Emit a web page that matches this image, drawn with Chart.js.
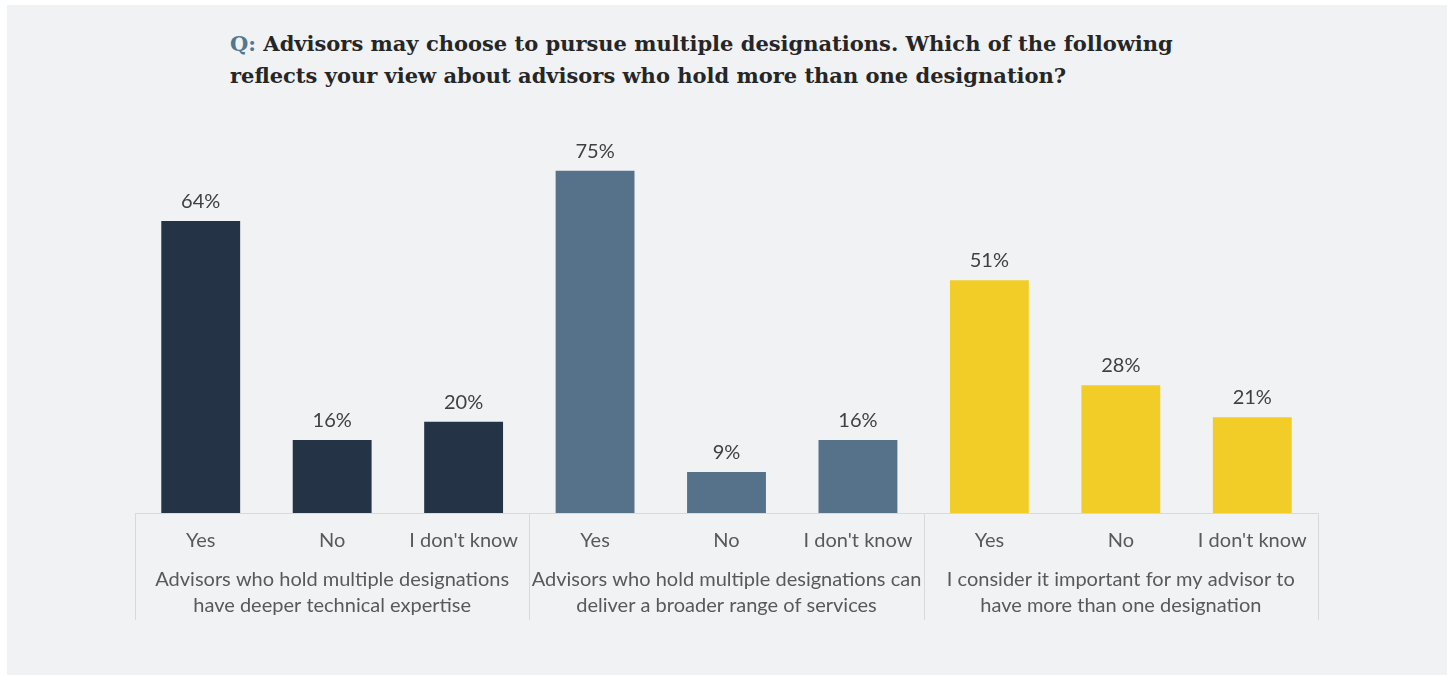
<!DOCTYPE html>
<html lang="en">
<head>
<meta charset="UTF-8">
<title>Advisor designations survey</title>
<script src="https://cdn.jsdelivr.net/npm/chart.js"></script>
<style>
    html, body {
        margin: 0;
        padding: 0;
        background: #ffffff;
    }
    .panel {
        position: absolute;
        left: 7px;
        top: 5px;
        width: 1440px;
        height: 670px;
        background: #f1f2f4;
    }
    .title {
        position: absolute;
        left: 223px;
        top: 23px;
        font-family: "DejaVu Serif", serif;
        font-weight: bold;
        font-size: 21px;
        line-height: 32px;
        color: #262626;
        white-space: nowrap;
    }
    .title .q { color: #4f7891; }
    .chart-box {
        position: absolute;
        left: 0;
        top: 0;
    }
</style>
</head>
<body>
<div class="panel">
    <div class="title"><span class="q">Q:</span> Advisors may choose to pursue multiple designations. Which of the following<br>reflects your view about advisors who hold more than one designation?</div>
</div>
<div class="chart-box">
    <canvas id="designations" width="1450" height="675"></canvas>
</div>
<script>
    // answers under each bar, statements under each group of three
    const answers = ['Yes', 'No', "I don't know", 'Yes', 'No', "I don't know", 'Yes', 'No', "I don't know"];
    const statements = [
        ['Advisors who hold multiple designations', 'have deeper technical expertise'],
        ['Advisors who hold multiple designations can', 'deliver a broader range of services'],
        ['I consider it important for my advisor to', 'have more than one designation']
    ];
    const shares = [64, 16, 20, 75, 9, 16, 51, 28, 21];
    const groupColors = ['#243446', '#56718a', '#f2cd27'];

    const barColors = shares.map((v, i) => groupColors[Math.floor(i / 3)]);
    const groupLineHeight = 1.3;
    const groupPadding = -2;

    // percent text above each bar
    const valueLabels = {
        id: 'valueLabels',
        afterDatasetsDraw(chart) {
            const ctx = chart.ctx;
            const meta = chart.getDatasetMeta(0);
            ctx.save();
            ctx.font = '20px Lato';
            ctx.fillStyle = '#404040';
            ctx.textAlign = 'center';
            ctx.textBaseline = 'alphabetic';
            meta.data.forEach((bar, i) => {
                ctx.fillText(shares[i] + '%', bar.x, bar.y - 13);
            });
            ctx.restore();
        }
    };

    // vertical dividers between the statement groups
    const groupDividers = {
        id: 'groupDividers',
        afterDraw(chart) {
            const area = chart.chartArea;
            const groups = chart.scales.groups;
            const bottom = groups.top + groupPadding + 2 * 20 * groupLineHeight + 1;
            const step = (area.right - area.left) / statements.length;
            const ctx = chart.ctx;
            ctx.save();
            ctx.strokeStyle = '#d9d9d9';
            ctx.lineWidth = 1;
            for (let k = 0; k <= statements.length; k++) {
                const x = Math.round(area.left + k * step) + 0.5;
                ctx.beginPath();
                ctx.moveTo(x, area.bottom);
                ctx.lineTo(x, bottom);
                ctx.stroke();
            }
            ctx.restore();
        }
    };

    const ctx = document.getElementById('designations').getContext('2d');
    new Chart(ctx, {
        type: 'bar',
        data: {
            labels: answers,
            datasets: [{
                data: shares,
                backgroundColor: barColors,
                barPercentage: 0.6,
                categoryPercentage: 1.0
            }]
        },
        options: {
            responsive: false,
            animation: false,
            layout: {
                padding: { left: 135, right: 132, top: 148, bottom: 58 }
            },
            plugins: {
                legend: { display: false },
                tooltip: { enabled: false }
            },
            scales: {
                y: {
                    display: false,
                    min: 0,
                    max: 80
                },
                x: {
                    weight: 0,
                    grid: { display: false, drawTicks: false },
                    border: { display: true, color: '#d9d9d9', width: 1 },
                    ticks: {
                        color: '#595959',
                        font: { family: 'Lato', size: 20, lineHeight: 1.2 },
                        padding: 16,
                        maxRotation: 0,
                        autoSkip: false
                    }
                },
                groups: {
                    type: 'category',
                    position: 'bottom',
                    weight: 1,
                    offset: true,
                    labels: statements,
                    grid: { display: false, drawTicks: false },
                    border: { display: false },
                    ticks: {
                        color: '#595959',
                        font: { family: 'Lato', size: 20, lineHeight: groupLineHeight },
                        padding: groupPadding,
                        maxRotation: 0,
                        autoSkip: false
                    }
                }
            }
        },
        plugins: [valueLabels, groupDividers]
    });
</script>
</body>
</html>
